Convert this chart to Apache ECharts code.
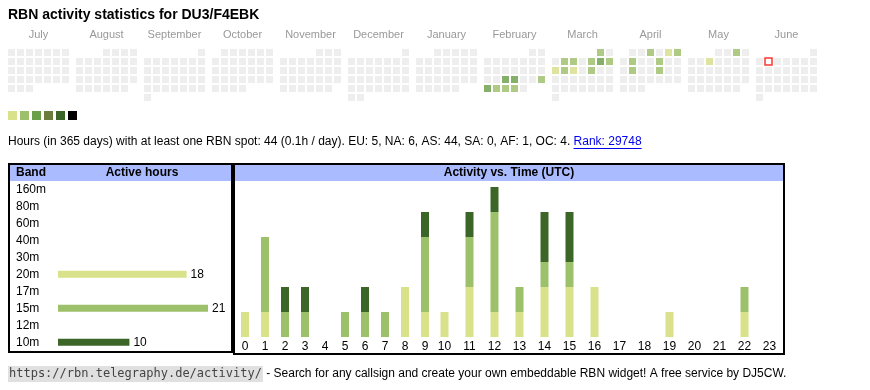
<!DOCTYPE html>
<html><head><meta charset="utf-8">
<script src="https://cdn.jsdelivr.net/npm/echarts@6/dist/echarts.min.js"></script>
<style>html,body{margin:0;padding:0;background:#fff}#c{width:870px;height:390px}</style>
</head><body><div id="c"></div>
<script>
// ---------- data ----------
const pageTitle = 'RBN activity statistics for DU3/F4EBK';
const months = ['2024-07','2024-08','2024-09','2024-10','2024-11','2024-12','2025-01','2025-02','2025-03','2025-04','2025-05','2025-06'];
const monthNames = ['July','August','September','October','November','December','January','February','March','April','May','June'];
const level1Days = ['2025-03-10','2025-03-12','2025-04-05','2025-05-07'];
const level2Days = ['2025-02-23','2025-02-25','2025-02-26','2025-02-27','2025-03-01','2025-03-04','2025-03-05','2025-03-07','2025-03-09','2025-03-11','2025-03-14','2025-04-03','2025-04-06','2025-04-08','2025-04-11','2025-04-15','2025-04-18','2025-05-03'];
const level3Days = ['2025-02-19','2025-02-20','2025-02-24','2025-03-08'];
const todayDate = '2025-06-03';
const levelColors = ['#d9e18b','#9dc16a','#6aa048','#6b7c3b','#3c6528','#000000'];

const statsText = 'Hours (in 365 days) with at least one RBN spot: 44 (0.1h / day). EU: 5, NA: 6, AS: 44, SA: 0, AF: 1, OC: 4. ';
const rankText = 'Rank: 29748';

const bands = ['160m','80m','60m','40m','30m','20m','17m','15m','12m','10m'];
const bandHours = [0,0,0,0,0,18,0,21,0,10];
const bandColors = ['#000000','#000000','#000000','#000000','#000000','#d9e18b','#000000','#9dc16a','#000000','#3c6528'];

const hourLabels = ['0','1','2','3','4','5','6','7','8','9','10','11','12','13','14','15','16','17','18','19','20','21','22','23'];
const hours20m = [1,1,0,0,0,0,0,0,2,1,1,2,1,1,2,2,2,0,0,1,0,0,1,0];
const hours15m = [0,3,1,1,0,1,1,1,0,3,0,2,4,1,1,1,0,0,0,0,0,0,1,0];
const hours10m = [0,0,1,1,0,0,1,0,0,1,0,1,1,0,2,2,0,0,0,0,0,0,0,0];

const footerUrl = 'https://rbn.telegraphy.de/activity/';
const footerText = ' - Search for any callsign and create your own embeddable RBN widget! A free service by DJ5CW.';

// ---------- build ----------
const FONT = "'Liberation Sans', Arial, sans-serif";
const MONO = "'DejaVu Sans Mono', monospace";
function tw(t, font){ const c=document.createElement('canvas').getContext('2d'); c.font=font; return c.measureText(t).width; }

const activeDays = [].concat(
  level1Days.map(d=>[d,1]), level2Days.map(d=>[d,2]), level3Days.map(d=>[d,3]));

const calendars = months.map((m,i)=>({
  orient:'vertical', range:m, firstDay:1, left:7+68*i, top:48, cellSize:[9,9],
  dayLabel:{show:false, firstDay:1}, monthLabel:{show:false}, yearLabel:{show:false},
  splitLine:{show:false},
  itemStyle:{color:'#eeeeee', borderColor:'#ffffff', borderWidth:2}
}));

const series = months.map((m,i)=>({
  type:'scatter', coordinateSystem:'calendar', calendarIndex:i, symbol:'rect', symbolSize:7,
  silent:true, data: activeDays.filter(d=>d[0].startsWith(m))
}));
series.push({
  type:'scatter', coordinateSystem:'calendar', calendarIndex:11, symbol:'rect', symbolSize:7, silent:true,
  itemStyle:{color:'#ffffff', borderColor:'#ff0000', borderWidth:1.5}, data:[[todayDate,0]]
});

// band bars
series.push({
  type:'bar', xAxisIndex:0, yAxisIndex:0, barWidth:7, silent:true,
  data: bandHours.map((v,i)=>({value:v, itemStyle:{color:bandColors[i]}})),
  label:{show:true, position:'right', distance:4, fontSize:12, color:'#000', fontFamily:FONT,
    formatter:p=>p.value?String(p.value):''}
});
// hour bars, two grids
[[1,0,10],[2,10,24]].forEach(([g,a,b])=>{
  [[hours20m,'#d9e18b'],[hours15m,'#9dc16a'],[hours10m,'#3c6528']].forEach(([arr,col])=>{
    series.push({type:'bar', xAxisIndex:g, yAxisIndex:g, stack:'s'+g, barWidth:8, silent:true,
      itemStyle:{color:col}, data:arr.slice(a,b)});
  });
});

const hAxisCommon = {type:'category', axisLine:{show:false}, axisTick:{show:false},
  axisLabel:{fontSize:12, color:'#000', margin:4, fontFamily:FONT, interval:0}};

const wStats = tw(statsText, '12px '+FONT);
const wRank = tw(rankText, '12px '+FONT);
const wUrl = tw(footerUrl, '12px '+MONO);

const graphic = [
  {type:'text', left:8, top:8, style:{text:pageTitle, font:'bold 14px '+FONT, fill:'#000'}},
  {type:'rect', shape:{x:10,y:165,width:221,height:16}, style:{fill:'#aabbff'}},
  {type:'rect', shape:{x:235,y:165,width:548,height:16}, style:{fill:'#aabbff'}},
  {type:'rect', shape:{x:9,y:164,width:223,height:188}, style:{fill:null, stroke:'#000', lineWidth:2}},
  {type:'rect', shape:{x:234,y:164,width:550,height:190}, style:{fill:null, stroke:'#000', lineWidth:2}},
  {type:'text', x:16, y:173, style:{text:'Band', font:'bold 12px '+FONT, fill:'#000', verticalAlign:'middle'}},
  {type:'text', x:142, y:173, style:{text:'Active hours', font:'bold 12px '+FONT, fill:'#000', align:'center', verticalAlign:'middle'}},
  {type:'text', x:509, y:173, style:{text:'Activity vs. Time (UTC)', font:'bold 12px '+FONT, fill:'#000', align:'center', verticalAlign:'middle'}},
  {type:'text', x:8, y:142, style:{text:statsText, font:'12px '+FONT, fill:'#000', verticalAlign:'middle'}},
  {type:'text', x:8+wStats, y:142, style:{text:rankText, font:'12px '+FONT, fill:'#0000ee', verticalAlign:'middle'}},
  {type:'line', shape:{x1:8+wStats, y1:148.5, x2:8+wStats+wRank, y2:148.5}, style:{stroke:'#0000ee', lineWidth:1}},
  {type:'rect', shape:{x:8,y:366,width:wUrl+2,height:16}, style:{fill:'#e0e0e0'}},
  {type:'text', x:9, y:374, style:{text:footerUrl, font:'12px '+MONO, fill:'#444', verticalAlign:'middle'}},
  {type:'text', x:10+wUrl, y:374, style:{text:footerText, font:'12px '+FONT, fill:'#000', verticalAlign:'middle'}}
];
monthNames.forEach((n,i)=>{
  graphic.push({type:'text', x:7+68*i+31.5, y:35, style:{text:n, font:'11px '+FONT, fill:'#999', align:'center', verticalAlign:'middle'}});
});

const option = {
  animation:false,
  textStyle:{fontFamily:FONT},
  calendar: calendars,
  visualMap:{type:'piecewise', seriesIndex:months.map((m,i)=>i), orient:'horizontal', left:8, top:111,
    itemWidth:9, itemHeight:9, itemGap:3, itemSymbol:'rect', showLabel:false, selectedMode:false, padding:0,
    pieces: levelColors.map((c,i)=>({value:i+1, color:c}))},
  grid:[
    {left:58, top:180.8, width:150, height:170},
    {left:235, top:187, width:200, height:150},
    {left:432, top:187, width:350, height:150}
  ],
  xAxis:[
    {gridIndex:0, type:'value', min:0, max:21, show:false},
    Object.assign({gridIndex:1, data:hourLabels.slice(0,10)}, hAxisCommon),
    Object.assign({gridIndex:2, data:hourLabels.slice(10)}, hAxisCommon)
  ],
  yAxis:[
    {gridIndex:0, type:'category', data:bands, inverse:true, axisLine:{show:false}, axisTick:{show:false},
      axisLabel:{margin:42, align:'left', fontSize:12, color:'#000', fontFamily:FONT}},
    {gridIndex:1, type:'value', min:0, max:6, show:false},
    {gridIndex:2, type:'value', min:0, max:6, show:false}
  ],
  graphic: graphic,
  series: series
};
echarts.init(document.getElementById('c')).setOption(option);
</script></body></html>
